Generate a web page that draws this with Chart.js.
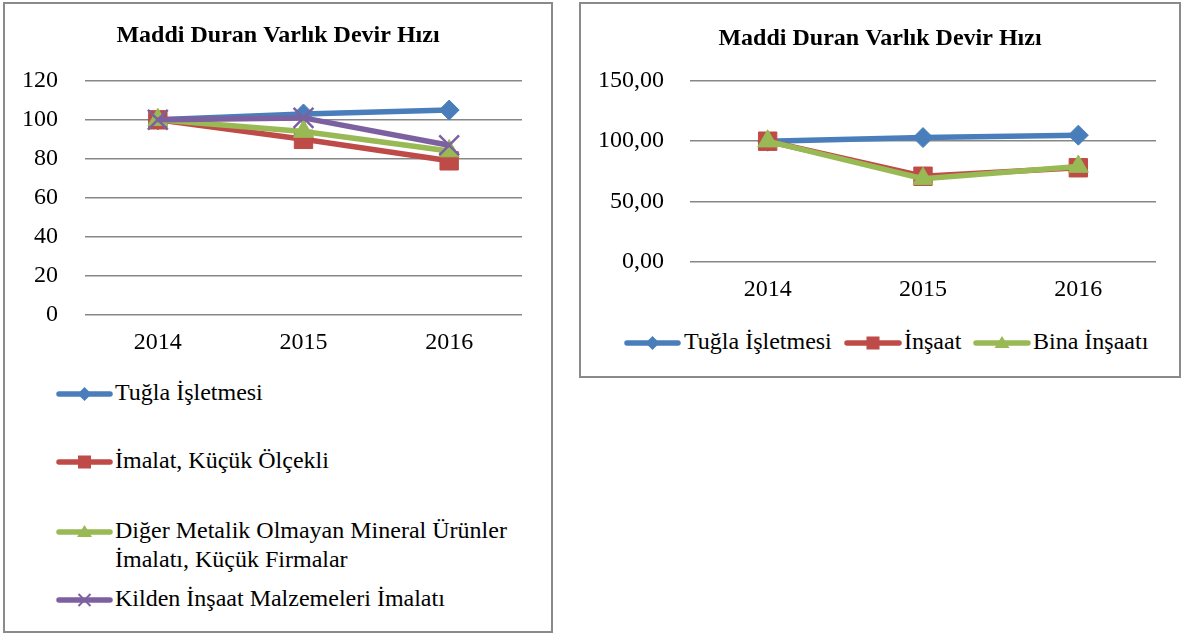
<!DOCTYPE html>
<html>
<head>
<meta charset="utf-8">
<script src="https://cdn.jsdelivr.net/npm/chart.js@4.4.1/dist/chart.umd.min.js"></script>
<style>
  html, body { margin: 0; padding: 0; background: #fff; }
  body { width: 1184px; height: 634px; position: relative; overflow: hidden; font-family: 'Liberation Serif', 'Times New Roman', serif; }
  .box { position: absolute; border: 2px solid #8a8a8a; box-sizing: border-box; background: #fff; }
  canvas { position: absolute; }
  .lg-text { position: absolute; font-size: 24px; line-height: 29px; color: #000; white-space: nowrap; }
  .lg-sample { position: absolute; }
</style>
</head>
<body>
<div class="box" style="left:3px; top:2px; width:550px; height:631px;"></div>
<div class="box" style="left:579px; top:2px; width:602px; height:376px;"></div>
<div id="c1wrap" style="position:absolute; left:4px; top:3px; width:548px; height:362px;"><canvas id="c1"></canvas></div>
<div id="c2wrap" style="position:absolute; left:581px; top:3px; width:598px; height:309px;"><canvas id="c2"></canvas></div>
<div id="legends"></div>
<script>
// ---- data ----
const years = ['2014', '2015', '2016'];
const title = 'Maddi Duran Varlık Devir Hızı';

const leftNames = ['Tuğla İşletmesi', 'İmalat, Küçük Ölçekli', 'Diğer Metalik Olmayan Mineral Ürünler\nİmalatı, Küçük Firmalar', 'Kilden İnşaat Malzemeleri İmalatı'];
const leftTugla = [100, 103, 105];
const leftImalat = [100, 90, 79];
const leftDiger = [100, 94, 84];
const leftKilden = [100, 101, 87];
const leftTicks = [0, 20, 40, 60, 80, 100, 120];

const rightNames = ['Tuğla İşletmesi', 'İnşaat', 'Bina İnşaatı'];
const rightTugla = [100, 103, 105];
const rightInsaat = [100, 71, 78];
const rightBina = [100, 69, 79];
const rightTicks = [0, 50, 100, 150];

// ---- styles ----
const BLUE = '#4a7ebb', RED = '#be4b48', GREEN = '#98b954', PURPLE = '#7d60a0';
const FONT = "'Liberation Serif', 'Times New Roman', serif";
const GRID = '#878787';

const markers = {
  diamond: { pointStyle: 'rectRot', pointRadius: 10, pointBorderWidth: 1 },
  square: { pointStyle: 'rect', pointRadius: 13, pointBorderWidth: 1 },
  triangle: { pointStyle: 'triangle', pointRadius: 11.5, pointBorderWidth: 1 },
  cross: { pointStyle: 'crossRot', pointRadius: 14, pointBorderWidth: 2.5 }
};

// center the title over the whole canvas (not only the padded area)
const fullWidthTitle = {
  id: 'fullWidthTitle',
  afterLayout(chart) {
    if (chart.titleBlock) { chart.titleBlock.left = 0; chart.titleBlock.right = chart.width; }
  }
};

function ds(label, data, color, marker, n, i) {
  const m = markers[marker];
  return {
    label, data,
    borderColor: color, backgroundColor: color,
    pointBackgroundColor: color, pointBorderColor: color,
    borderWidth: 5.5,
    pointStyle: m.pointStyle, pointRadius: m.pointRadius, pointHoverRadius: m.pointRadius,
    pointBorderWidth: m.pointBorderWidth,
    tension: 0, fill: false,
    order: n - i
  };
}

function makeChart(id, datasets, ticks, opts) {
  const ctx = document.getElementById(id);
  return new Chart(ctx, {
    type: 'line',
    data: { labels: years, datasets },
    plugins: [fullWidthTitle],
    options: {
      responsive: true, maintainAspectRatio: false, animation: false,
      layout: { padding: { left: 0, right: opts.padRight, top: 0, bottom: 0 } },
      plugins: {
        legend: { display: false },
        tooltip: { enabled: false },
        title: {
          display: true, text: title, color: '#000',
          font: { family: FONT, size: 24, weight: 'bold', lineHeight: 1.2 },
          padding: { top: opts.titleTop, bottom: opts.titleBottom }
        }
      },
      scales: {
        x: {
          type: 'category', offset: true,
          grid: { display: false, drawTicks: false },
          border: { display: false },
          ticks: { color: '#000', font: { family: FONT, size: 24 }, padding: 13, maxRotation: 0 },
          afterFit: s => { s.height = 50; }
        },
        y: {
          min: ticks[0], max: ticks[ticks.length - 1],
          afterBuildTicks: s => { s.ticks = ticks.map(v => ({ value: v })); },
          grid: { color: GRID, lineWidth: 1.5, drawTicks: false },
          border: { display: false },
          ticks: { color: '#000', font: { family: FONT, size: 24 }, padding: opts.tickPad, callback: opts.fmt },
          afterFit: s => { s.width = opts.yWidth; }
        }
      }
    }
  });
}

const leftColors = [BLUE, RED, GREEN, PURPLE];
const leftMarkers = ['diamond', 'square', 'triangle', 'cross'];
const leftData = [leftTugla, leftImalat, leftDiger, leftKilden];
makeChart('c1', leftData.map((d, i) => ds(leftNames[i].replace('\n', ' '), d, leftColors[i], leftMarkers[i], 4, i)), leftTicks,
  { padRight: 30, titleTop: 18, titleBottom: 31, yWidth: 81, tickPad: 27, fmt: v => String(v) });

const rightColors = [BLUE, RED, GREEN];
const rightMarkers = ['diamond', 'square', 'triangle'];
const rightData = [rightTugla, rightInsaat, rightBina];
makeChart('c2', rightData.map((d, i) => ds(rightNames[i], d, rightColors[i], rightMarkers[i], 3, i)), rightTicks,
  { padRight: 23, titleTop: 21, titleBottom: 28, yWidth: 109, tickPad: 26, fmt: v => v.toFixed(2).replace('.', ',') });

// ---- HTML legends ----
function markerSvg(marker, color, cx, cy) {
  if (marker === 'diamond') return `<polygon points="${cx},${cy-7} ${cx+7},${cy} ${cx},${cy+7} ${cx-7},${cy}" fill="${color}"/>`;
  if (marker === 'square') return `<rect x="${cx-6.5}" y="${cy-6.5}" width="13" height="13" fill="${color}"/>`;
  if (marker === 'triangle') return `<polygon points="${cx},${cy-7} ${cx+7.5},${cy+5} ${cx-7.5},${cy+5}" fill="${color}"/>`;
  if (marker === 'cross') return `<path d="M${cx-6},${cy-6}L${cx+6},${cy+6}M${cx+6},${cy-6}L${cx-6},${cy+6}" stroke="${color}" stroke-width="2"/>`;
  return '';
}
function addItem(x1, x2, y, textX, name, color, marker) {
  const w = x2 - x1, h = 20;
  const svg = `<svg class="lg-sample" style="left:${x1}px; top:${y - h/2}px" width="${w}" height="${h}">
    <line x1="3" y1="${h/2}" x2="${w-3}" y2="${h/2}" stroke="${color}" stroke-width="5.5" stroke-linecap="round"/>
    ${markerSvg(marker, color, w/2, h/2)}</svg>`;
  const lines = name.split('\n').join('<br>');
  const txt = `<div class="lg-text" style="left:${textX}px; top:${y - 16}px">${lines}</div>`;
  document.getElementById('legends').insertAdjacentHTML('beforeend', svg + txt);
}
const leftLegendY = [394, 462, 532, 600];
leftNames.forEach((n, i) => addItem(56, 113, leftLegendY[i], 115, n, leftColors[i], leftMarkers[i]));
const rightLegendX = [[624, 681, 684], [844, 902, 904], [973, 1031, 1033]];
rightNames.forEach((n, i) => addItem(rightLegendX[i][0], rightLegendX[i][1], 343, rightLegendX[i][2], n, rightColors[i], rightMarkers[i]));
</script>
</body>
</html>
